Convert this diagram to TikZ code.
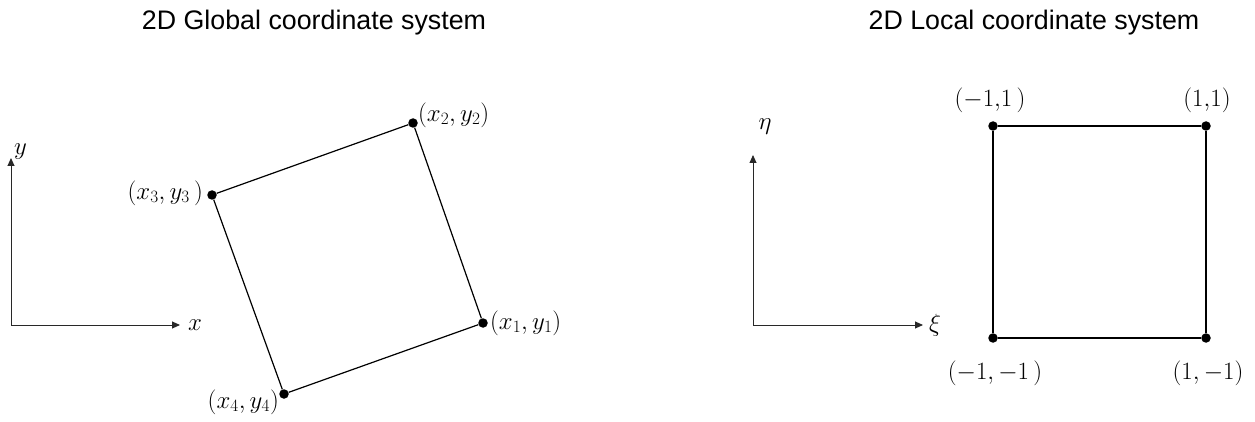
\documentclass[tikz,border=0pt]{standalone}
\usepackage{amsmath, amssymb}
\usepackage{fontspec}
\setmainfont{Liberation Sans}
\usepackage{xcolor}
\usepackage{tikz}
\usetikzlibrary{arrows.meta, positioning}
\definecolor{inkblack}{RGB}{0, 0, 0}
\definecolor{axisgray}{RGB}{40, 40, 40}

\begin{document}
\begin{tikzpicture}[
  x=1pt, y=-1pt,
  title/.style={font=\fontsize{26.8}{32}\selectfont, anchor=base, inner sep=0pt},
  dot/.style={circle, fill=inkblack, minimum size=9.5pt, inner sep=0pt},
  coord/.style={font=\fontsize{24}{29}\selectfont, inner sep=0pt},
  edge/.style={line width=1.2pt, color=inkblack},
  axis/.style={-{Triangle[length=8pt, width=7pt]}, line width=0.9pt, color=axisgray}
]
\useasboundingbox (0,0) rectangle (1255,422);

\node[title] (gtitle) at (314,30)  {2D Global coordinate system};
\node[title] (ltitle) at (1034,30) {2D Local coordinate system};

% global system
\coordinate (go)   at (11,325);
\coordinate (gxtip) at (180,325);
\coordinate (gytip) at (11,158);
\draw[axis] (go) -- (gxtip);
\draw[axis] (go) -- (gytip);
\node[coord, right=8pt of gxtip] (gxlab) {$x$};
\node[coord, right=3pt of gytip, yshift=6pt] (gylab) {$y$};

\node[dot] (g1) at (483,323) {};
\node[dot] (g2) at (413,123) {};
\node[dot] (g3) at (212,195) {};
\node[dot] (g4) at (284,394) {};
\draw[edge] (g1) -- (g2) -- (g3) -- (g4) -- (g1);

\node[coord, right=2pt of g1] (g1lab)              {$(x_1,y_1)$};
\node[coord, right=0pt of g2, yshift=8pt] (g2lab)  {$(x_2,y_2)$};
\node[coord, left=4pt of g3, yshift=2pt] (g3lab)   {$(x_3,y_3\,)$};
\node[coord, left=0pt of g4, yshift=-8pt] (g4lab)  {$(x_4,y_4)$};

% local system
\coordinate (lo)    at (753,325);
\coordinate (lxitip) at (923,325);
\coordinate (letatip) at (753,155);
\draw[axis] (lo) -- (lxitip);
\draw[axis] (lo) -- (letatip);
\node[coord, right=6pt of lxitip] (lxilab) {$\xi$};
\node[coord, above=20pt of letatip, xshift=12pt] (letalab) {$\eta$};

\node[dot] (q1) at (1206,338) {};
\node[dot] (q2) at (1206,126) {};
\node[dot] (q3) at (993,126)  {};
\node[dot] (q4) at (993,338)  {};
\draw[edge] (q1) -- (q2) -- (q3) -- (q4) -- (q1);

\node[coord, above=8pt of q2, xshift=1pt]  (q2lab) {$(1{,}1)$};
\node[coord, above=8pt of q3, xshift=-3pt] (q3lab) {$(-1{,}1\,)$};
\node[coord, below=18pt of q4, xshift=2pt] (q4lab) {$(-1,-1\,)$};
\node[coord, below=18pt of q1, xshift=2pt] (q1lab) {$(1,-1)$};

\end{tikzpicture}
\end{document}
